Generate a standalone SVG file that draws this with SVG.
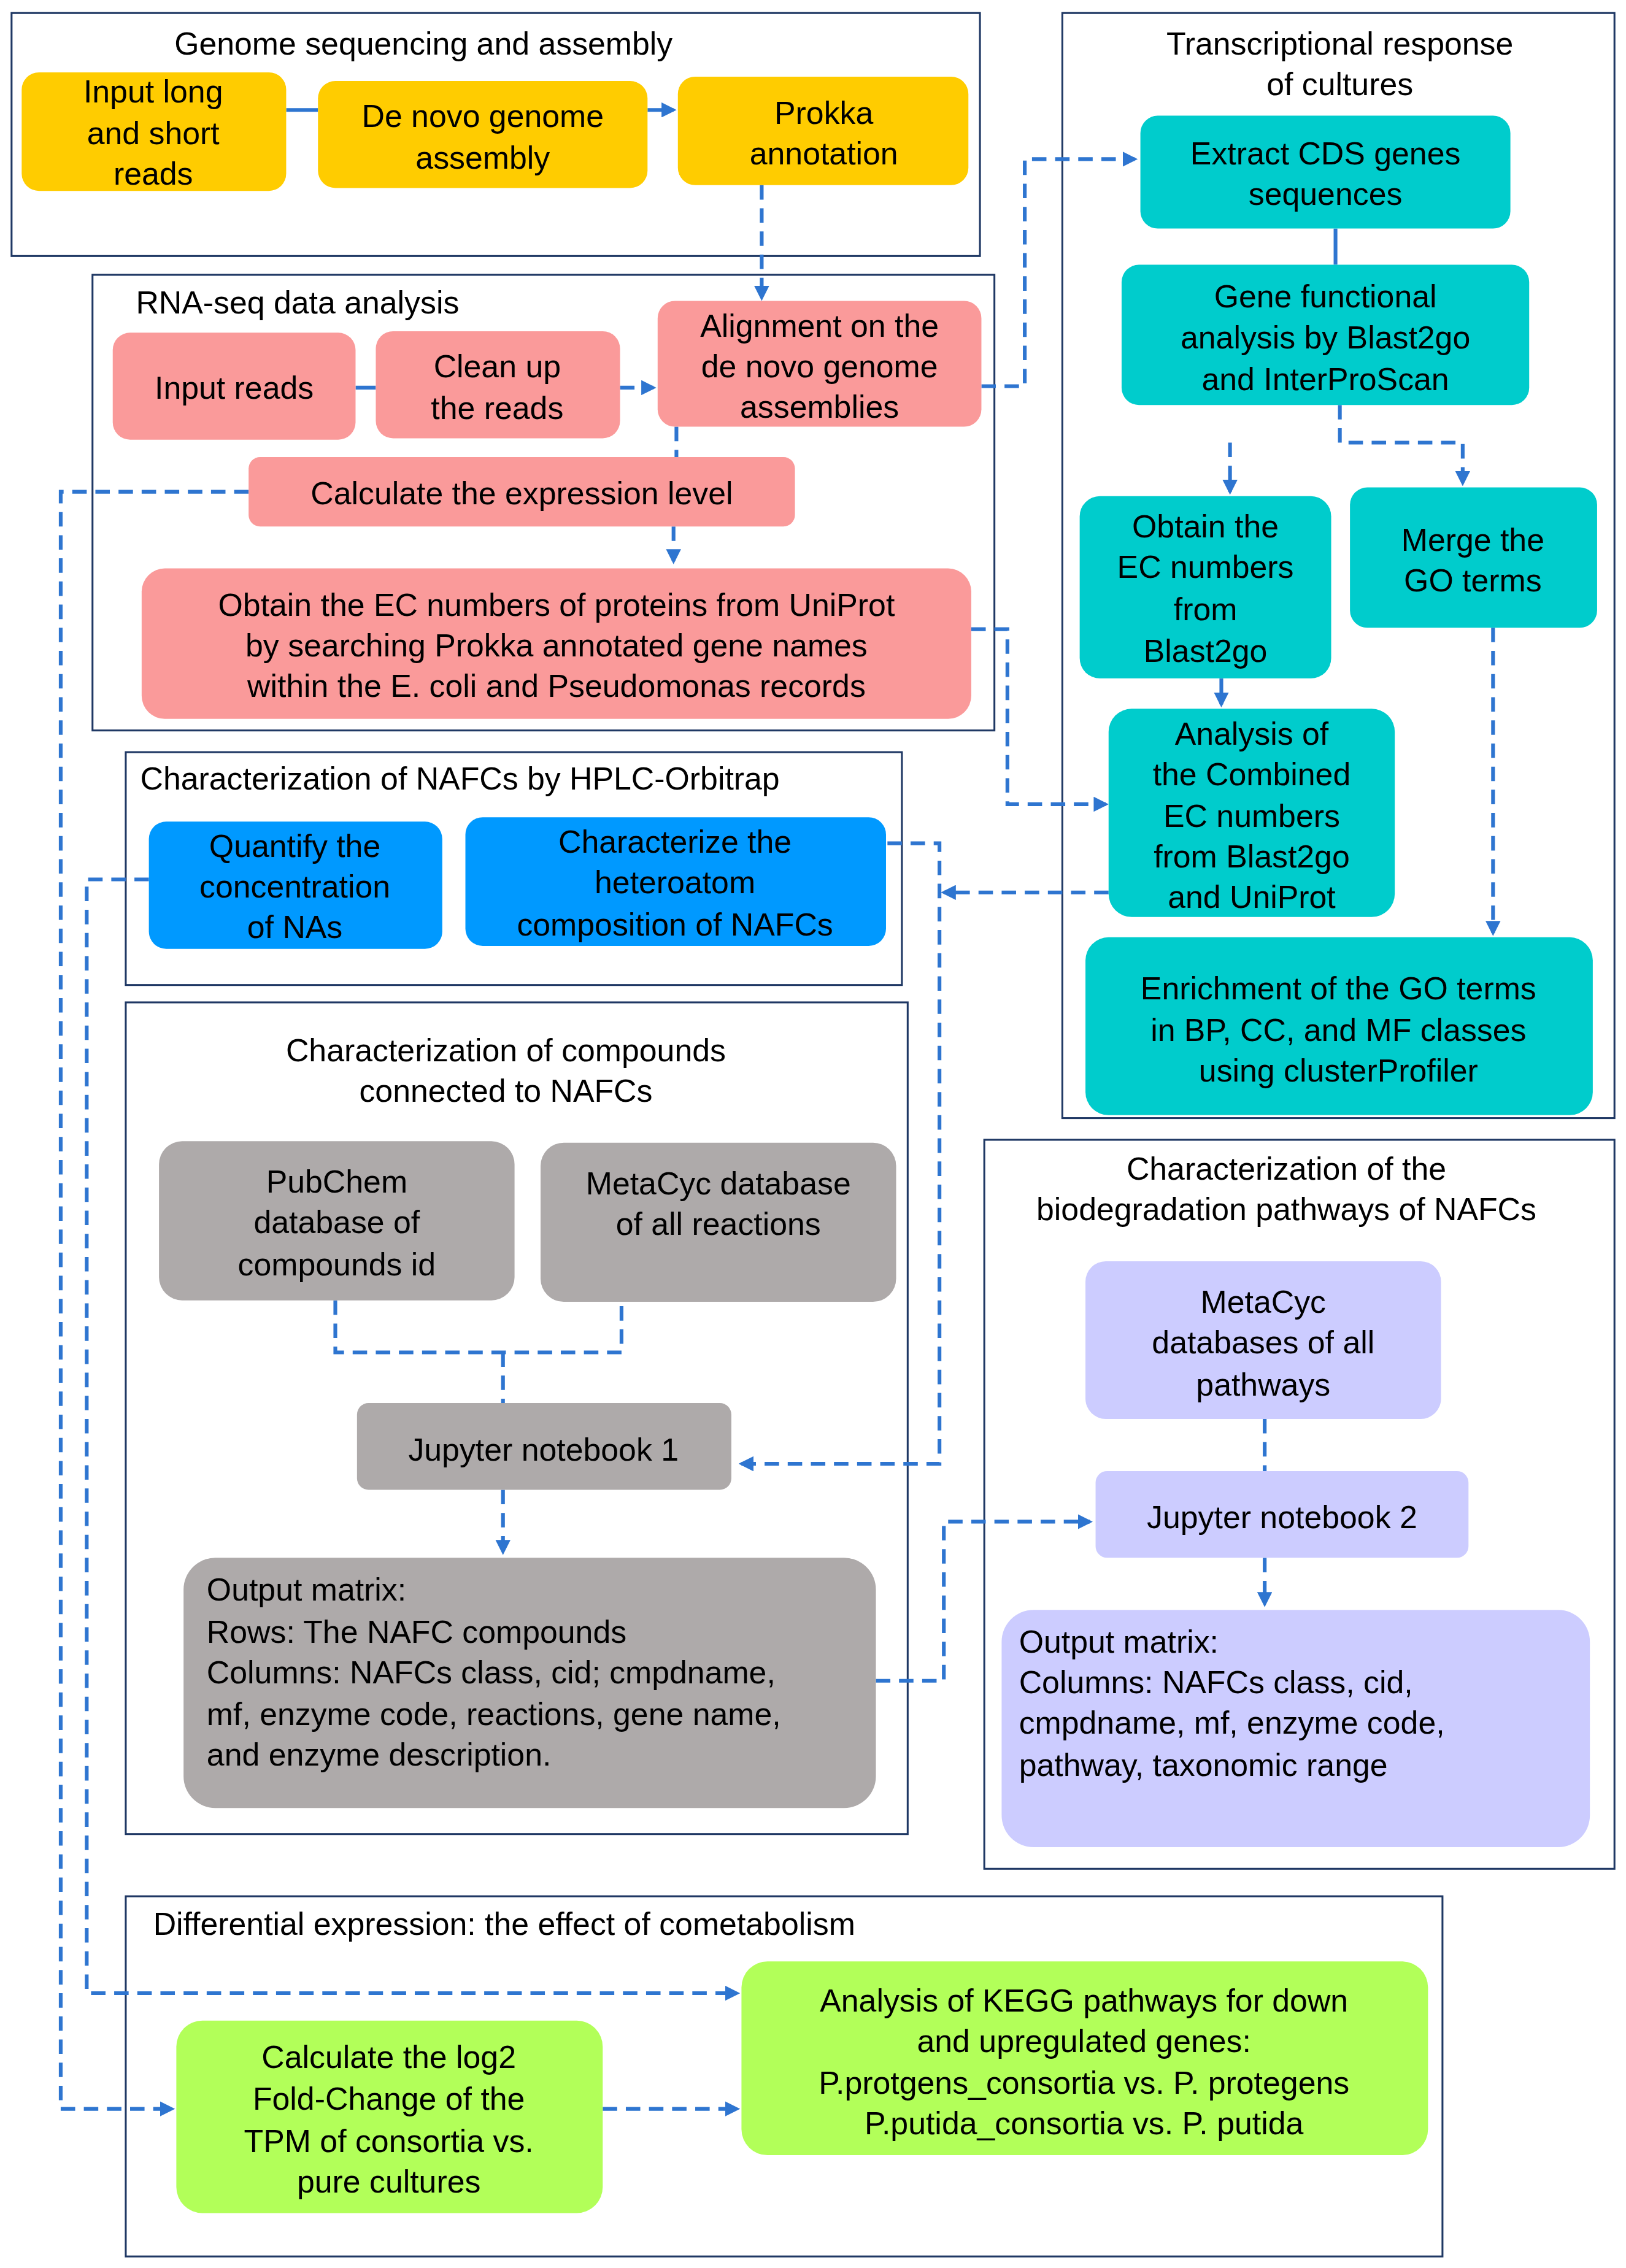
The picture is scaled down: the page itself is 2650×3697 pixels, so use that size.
<svg xmlns="http://www.w3.org/2000/svg" width="2650" height="3697" viewBox="0 0 2650 3697">
<style>
text{font-family:"Liberation Sans",Arial,sans-serif;font-size:22px;fill:#000}
.t{text-anchor:middle}
.f{fill:none;stroke:#1F3864;stroke-width:1.3}
.y{fill:#FFCC00}.p{fill:#FA9A9A}.c{fill:#00CCCC}.b{fill:#0099FF}.g{fill:#AEAAAA}.l{fill:#CCCCFF}.gr{fill:#B2FF59}
.e{fill:none;stroke:#2E75D0;stroke-width:2.6;stroke-dasharray:10 6}
.s{fill:none;stroke:#2E75D0;stroke-width:2.6}
</style>
<defs><marker id="a" markerWidth="4" markerHeight="4" refX="3.2" refY="2" orient="auto" markerUnits="strokeWidth"><path d="M0,0L4,2L0,4z" fill="#2E75D0"/></marker></defs>
<rect width="2650" height="3697" fill="#fff"/>
<g transform="scale(2.3556,2.3578)">
<g id="frames">
<rect class="f" x="8" y="9" width="670" height="168"/>
<text class="t" x="293" y="30" dy="0.35em">Genome sequencing and assembly</text>
<rect class="f" x="64" y="190" width="624" height="315"/>
<text x="94" y="209" dy="0.35em">RNA-seq data analysis</text>
<rect class="f" x="735" y="9" width="382" height="764"/>
<text class="t" x="927" y="30" dy="0.35em">Transcriptional response</text>
<text class="t" x="927" y="58" dy="0.35em">of cultures</text>
<rect class="f" x="87" y="520" width="537" height="161"/>
<text x="97" y="538" dy="0.35em">Characterization of NAFCs by HPLC-Orbitrap</text>
<rect class="f" x="87" y="693" width="541" height="575"/>
<text class="t" x="350" y="726" dy="0.35em">Characterization of compounds</text>
<text class="t" x="350" y="754" dy="0.35em">connected to NAFCs</text>
<rect class="f" x="681" y="788" width="436" height="504"/>
<text class="t" x="890" y="808" dy="0.35em">Characterization of the</text>
<text class="t" x="890" y="836" dy="0.35em">biodegradation pathways of NAFCs</text>
<rect class="f" x="87" y="1311" width="911" height="249"/>
<text x="106" y="1330" dy="0.35em">Differential expression: the effect of cometabolism</text>
</g>
<g id="connectors">
<path class="s" d="M198,76H220"/>
<path class="s" d="M448,76H466" marker-end="url(#a)"/>
<path class="e" d="M527,128V206" marker-end="url(#a)"/>
<path class="s" d="M246,268H260"/>
<path class="e" d="M429,268H452" marker-end="url(#a)"/>
<path class="e" d="M468,295V316"/>
<path class="e" d="M466,364V388" marker-end="url(#a)"/>
<path class="e" d="M172,340H42V1458H119" marker-end="url(#a)"/>
<path class="e" d="M679,267H709V110H785" marker-end="url(#a)"/>
<path class="e" d="M672,435H697V556H765" marker-end="url(#a)"/>
<path class="s" d="M924,158V183"/>
<path class="e" d="M927,280V306H1012V334" marker-end="url(#a)"/>
<path class="e" d="M851,306V340" marker-end="url(#a)"/>
<path class="e" d="M845,469V487" marker-end="url(#a)"/>
<path class="e" d="M1033,434V645" marker-end="url(#a)"/>
<path class="e" d="M767,617H653" marker-end="url(#a)"/>
<path class="e" d="M614,583H650V1012H513" marker-end="url(#a)"/>
<path class="e" d="M103,608H60V1378H510" marker-end="url(#a)"/>
<path class="e" d="M232,899V935H430V900"/>
<path class="e" d="M348,935V970"/>
<path class="e" d="M348,1030V1073" marker-end="url(#a)"/>
<path class="e" d="M606,1162H653V1052H754" marker-end="url(#a)"/>
<path class="e" d="M875,981V1017"/>
<path class="e" d="M875,1077V1109" marker-end="url(#a)"/>
<path class="e" d="M417,1458H510" marker-end="url(#a)"/>
</g>
<g id="n1"><rect class="y" x="15" y="50" width="183" height="82" rx="12"/><text class="t" x="106" y="63" dy="0.35em">Input long</text><text class="t" x="106" y="92" dy="0.35em">and short</text><text class="t" x="106" y="120" dy="0.35em">reads</text></g>
<g id="n2"><rect class="y" x="220" y="56" width="228" height="74" rx="12"/><text class="t" x="334" y="80" dy="0.35em">De novo genome</text><text class="t" x="334" y="109" dy="0.35em">assembly</text></g>
<g id="n3"><rect class="y" x="469" y="53" width="201" height="75" rx="12"/><text class="t" x="570" y="78" dy="0.35em">Prokka</text><text class="t" x="570" y="106" dy="0.35em">annotation</text></g>
<g id="n4"><rect class="p" x="78" y="230" width="168" height="74" rx="12"/><text class="t" x="162" y="268" dy="0.35em">Input reads</text></g>
<g id="n5"><rect class="p" x="260" y="229" width="169" height="74" rx="12"/><text class="t" x="344" y="253" dy="0.35em">Clean up</text><text class="t" x="344" y="282" dy="0.35em">the reads</text></g>
<g id="n6"><rect class="p" x="455" y="208" width="224" height="87" rx="12"/><text class="t" x="567" y="225" dy="0.35em">Alignment on the</text><text class="t" x="567" y="253" dy="0.35em">de novo genome</text><text class="t" x="567" y="281" dy="0.35em">assemblies</text></g>
<g id="n7"><rect class="p" x="172" y="316" width="378" height="48" rx="8"/><text class="t" x="361" y="341" dy="0.35em">Calculate the expression level</text></g>
<g id="n8"><rect class="p" x="98" y="393" width="574" height="104" rx="16"/><text class="t" x="385" y="418" dy="0.35em">Obtain the EC numbers of proteins from UniProt</text><text class="t" x="385" y="446" dy="0.35em">by searching Prokka annotated gene names</text><text class="t" x="385" y="474" dy="0.35em">within the E. coli and Pseudomonas records</text></g>
<g id="n9"><rect class="c" x="789" y="80" width="256" height="78" rx="12"/><text class="t" x="917" y="106" dy="0.35em">Extract CDS genes</text><text class="t" x="917" y="134" dy="0.35em">sequences</text></g>
<g id="n10"><rect class="c" x="776" y="183" width="282" height="97" rx="12"/><text class="t" x="917" y="205" dy="0.35em">Gene functional</text><text class="t" x="917" y="233" dy="0.35em">analysis by Blast2go</text><text class="t" x="917" y="262" dy="0.35em">and InterProScan</text></g>
<g id="n11"><rect class="c" x="747" y="343" width="174" height="126" rx="14"/><text class="t" x="834" y="364" dy="0.35em">Obtain the</text><text class="t" x="834" y="392" dy="0.35em">EC numbers</text><text class="t" x="834" y="421" dy="0.35em">from</text><text class="t" x="834" y="450" dy="0.35em">Blast2go</text></g>
<g id="n12"><rect class="c" x="934" y="337" width="171" height="97" rx="12"/><text class="t" x="1019" y="373" dy="0.35em">Merge the</text><text class="t" x="1019" y="401" dy="0.35em">GO terms</text></g>
<g id="n13"><rect class="c" x="767" y="490" width="198" height="144" rx="16"/><text class="t" x="866" y="507" dy="0.35em">Analysis of</text><text class="t" x="866" y="535" dy="0.35em">the Combined</text><text class="t" x="866" y="564" dy="0.35em">EC numbers</text><text class="t" x="866" y="592" dy="0.35em">from Blast2go</text><text class="t" x="866" y="620" dy="0.35em">and UniProt</text></g>
<g id="n14"><rect class="c" x="751" y="648" width="351" height="123" rx="16"/><text class="t" x="926" y="683" dy="0.35em">Enrichment of the GO terms</text><text class="t" x="926" y="712" dy="0.35em">in BP, CC, and MF classes</text><text class="t" x="926" y="740" dy="0.35em">using clusterProfiler</text></g>
<g id="n15"><rect class="b" x="103" y="568" width="203" height="88" rx="12"/><text class="t" x="204" y="585" dy="0.35em">Quantify the</text><text class="t" x="204" y="613" dy="0.35em">concentration</text><text class="t" x="204" y="641" dy="0.35em">of NAs</text></g>
<g id="n16"><rect class="b" x="322" y="565" width="291" height="89" rx="12"/><text class="t" x="467" y="582" dy="0.35em">Characterize the</text><text class="t" x="467" y="610" dy="0.35em">heteroatom</text><text class="t" x="467" y="639" dy="0.35em">composition of NAFCs</text></g>
<g id="n17"><rect class="g" x="110" y="789" width="246" height="110" rx="16"/><text class="t" x="233" y="817" dy="0.35em">PubChem</text><text class="t" x="233" y="845" dy="0.35em">database of</text><text class="t" x="233" y="874" dy="0.35em">compounds id</text></g>
<g id="n18"><rect class="g" x="374" y="790" width="246" height="110" rx="16"/><text class="t" x="497" y="818" dy="0.35em">MetaCyc database</text><text class="t" x="497" y="846" dy="0.35em">of all reactions</text></g>
<g id="n19"><rect class="g" x="247" y="970" width="259" height="60" rx="8"/><text class="t" x="376" y="1002" dy="0.35em">Jupyter notebook 1</text></g>
<g id="n20"><rect class="g" x="127" y="1077" width="479" height="173" rx="22"/><text x="143" y="1099" dy="0.35em">Output matrix:</text><text x="143" y="1128" dy="0.35em">Rows: The NAFC compounds</text><text x="143" y="1156" dy="0.35em">Columns: NAFCs class, cid; cmpdname,</text><text x="143" y="1185" dy="0.35em">mf, enzyme code, reactions, gene name,</text><text x="143" y="1213" dy="0.35em">and enzyme description.</text></g>
<g id="n21"><rect class="l" x="751" y="872" width="246" height="109" rx="14"/><text class="t" x="874" y="900" dy="0.35em">MetaCyc</text><text class="t" x="874" y="928" dy="0.35em">databases of all</text><text class="t" x="874" y="957" dy="0.35em">pathways</text></g>
<g id="n22"><rect class="l" x="758" y="1017" width="258" height="60" rx="8"/><text class="t" x="887" y="1049" dy="0.35em">Jupyter notebook 2</text></g>
<g id="n23"><rect class="l" x="693" y="1113" width="407" height="164" rx="22"/><text x="705" y="1135" dy="0.35em">Output matrix:</text><text x="705" y="1163" dy="0.35em">Columns: NAFCs class, cid,</text><text x="705" y="1191" dy="0.35em">cmpdname, mf, enzyme code,</text><text x="705" y="1220" dy="0.35em">pathway, taxonomic range</text></g>
<g id="n24"><rect class="gr" x="122" y="1397" width="295" height="133" rx="18"/><text class="t" x="269" y="1422" dy="0.35em">Calculate the log2</text><text class="t" x="269" y="1451" dy="0.35em">Fold-Change of the</text><text class="t" x="269" y="1480" dy="0.35em">TPM of consortia vs.</text><text class="t" x="269" y="1508" dy="0.35em">pure cultures</text></g>
<g id="n25"><rect class="gr" x="513" y="1356" width="475" height="134" rx="18"/><text class="t" x="750" y="1383" dy="0.35em">Analysis of KEGG pathways for down</text><text class="t" x="750" y="1411" dy="0.35em">and upregulated genes:</text><text class="t" x="750" y="1440" dy="0.35em">P.protgens_consortia vs. P. protegens</text><text class="t" x="750" y="1468" dy="0.35em">P.putida_consortia vs. P. putida</text></g>
</g>
</svg>
